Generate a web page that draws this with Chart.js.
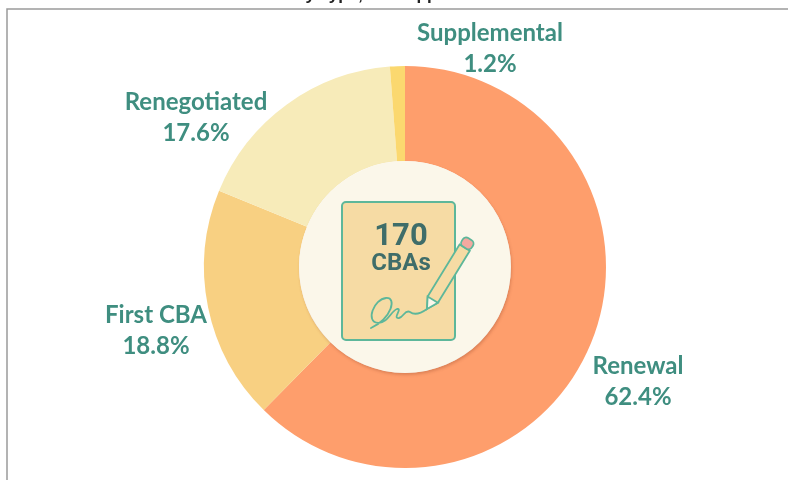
<!DOCTYPE html>
<html>
<head>
  <title>CBAs by type</title>
  <script src="https://cdn.jsdelivr.net/npm/chart.js"></script>
  <style>
    html, body { margin: 0; padding: 0; background: #fff; overflow: hidden; }
    canvas { display: block; }
  </style>
</head>
<body>
  <canvas id="donut" width="788" height="480"></canvas>

  <script>
    const categories = ['Renewal', 'First CBA', 'Renegotiated', 'Supplemental'];
    const shares = [62.4, 18.8, 17.6, 1.2];
    const sliceColors = ['#FE9E6C', '#F8D082', '#F7EBB9', '#FBD86F'];
    const centerNumber = '170';
    const centerUnit = 'CBAs';
    const titleText = 'CBAs by Type, for Supplemental';

    const GREEN = '#5DB79A';
    const LABEL = '#3F8E80';

    // label centres, same order as categories
    const labelSpots = [[638, 366], [156, 315], [196, 102], [490, 33]];

    const extras = {
      id: 'extras',
      beforeDraw(chart) {
        const c = chart.ctx;
        c.save();
        c.fillStyle = '#fff';
        c.fillRect(0, 0, 788, 480);
        // frame from the scan, no right or bottom edge
        c.strokeStyle = '#9a9a9a';
        c.lineWidth = 1.5;
        c.beginPath();
        c.moveTo(7, 480);
        c.lineTo(7, 9);
        c.lineTo(788, 9);
        c.stroke();
        // title is cut by the page edge
        c.fillStyle = '#222';
        c.font = 'bold 17px "Liberation Sans"';
        c.textAlign = 'left';
        c.textBaseline = 'alphabetic';
        c.fillText(titleText, 244, 0);
        c.restore();
      },
      afterDraw(chart) {
        const c = chart.ctx;
        const arc = chart.getDatasetMeta(0).data[0];
        c.save();

        // centre disc
        c.shadowColor = 'rgba(150,70,40,0.3)';
        c.shadowBlur = 3;
        c.shadowOffsetX = 1;
        c.shadowOffsetY = 2;
        c.fillStyle = '#FBF7EA';
        c.beginPath();
        c.arc(arc.x, arc.y, arc.innerRadius, 0, Math.PI * 2);
        c.fill();
        c.shadowColor = 'transparent';

        // sheet
        c.fillStyle = '#F6DBA4';
        c.strokeStyle = GREEN;
        c.lineWidth = 2;
        c.beginPath();
        c.roundRect(342, 202, 113, 138, 4);
        c.fill();
        c.stroke();

        c.textAlign = 'center';
        c.textBaseline = 'middle';
        c.fillStyle = '#3F6D69';
        c.font = 'bold 31px Roboto';
        c.fillText(centerNumber, 401, 237);
        c.font = 'bold 24px Roboto';
        c.fillText(centerUnit, 401, 264);

        // signature
        c.strokeStyle = GREEN;
        c.lineWidth = 1.8;
        c.lineCap = 'round';
        c.beginPath();
        c.moveTo(371, 328);
        c.bezierCurveTo(392, 318, 397, 297, 386, 298);
        c.bezierCurveTo(374, 299, 365, 322, 378, 323);
        c.bezierCurveTo(388, 323, 391, 311, 397, 309);
        c.bezierCurveTo(403, 308, 392, 319, 399, 318);
        c.bezierCurveTo(404, 317, 405, 309, 410, 312);
        c.bezierCurveTo(414, 315, 420, 314, 427, 309);
        c.stroke();

        // pencil
        c.translate(427, 309);
        c.rotate(Math.atan2(-70, 43));
        c.lineWidth = 1.8;
        c.fillStyle = '#F6DBA4';
        c.beginPath();
        c.moveTo(0, 0);
        c.lineTo(11, -6);
        c.lineTo(72, -6);
        c.lineTo(72, 6);
        c.lineTo(11, 6);
        c.closePath();
        c.fill();
        c.stroke();
        c.fillStyle = '#FBF7EA';
        c.beginPath();
        c.moveTo(0, 0);
        c.lineTo(11, -6);
        c.lineTo(11, 6);
        c.closePath();
        c.fill();
        c.stroke();
        c.fillStyle = '#F4A9A0';
        c.beginPath();
        c.roundRect(72, -6, 10, 12, 4);
        c.fill();
        c.stroke();
        c.setTransform(1, 0, 0, 1, 0, 0);

        // slice labels
        c.fillStyle = LABEL;
        c.font = 'bold 24px Lato';
        categories.forEach((name, i) => {
          const [x, y] = labelSpots[i];
          c.fillText(name, x, y);
          c.fillText(shares[i].toFixed(1) + '%', x, y + 31);
        });
        c.restore();
      }
    };

    new Chart(document.getElementById('donut'), {
      type: 'doughnut',
      data: {
        labels: categories,
        datasets: [{
          data: shares,
          backgroundColor: sliceColors,
          borderWidth: 0
        }]
      },
      options: {
        responsive: false,
        animation: false,
        cutout: '52.7%',
        layout: { padding: { left: 22, top: 66, bottom: 12 } },
        plugins: { legend: { display: false }, tooltip: { enabled: false } }
      },
      plugins: [extras]
    });
  </script>
</body>
</html>
